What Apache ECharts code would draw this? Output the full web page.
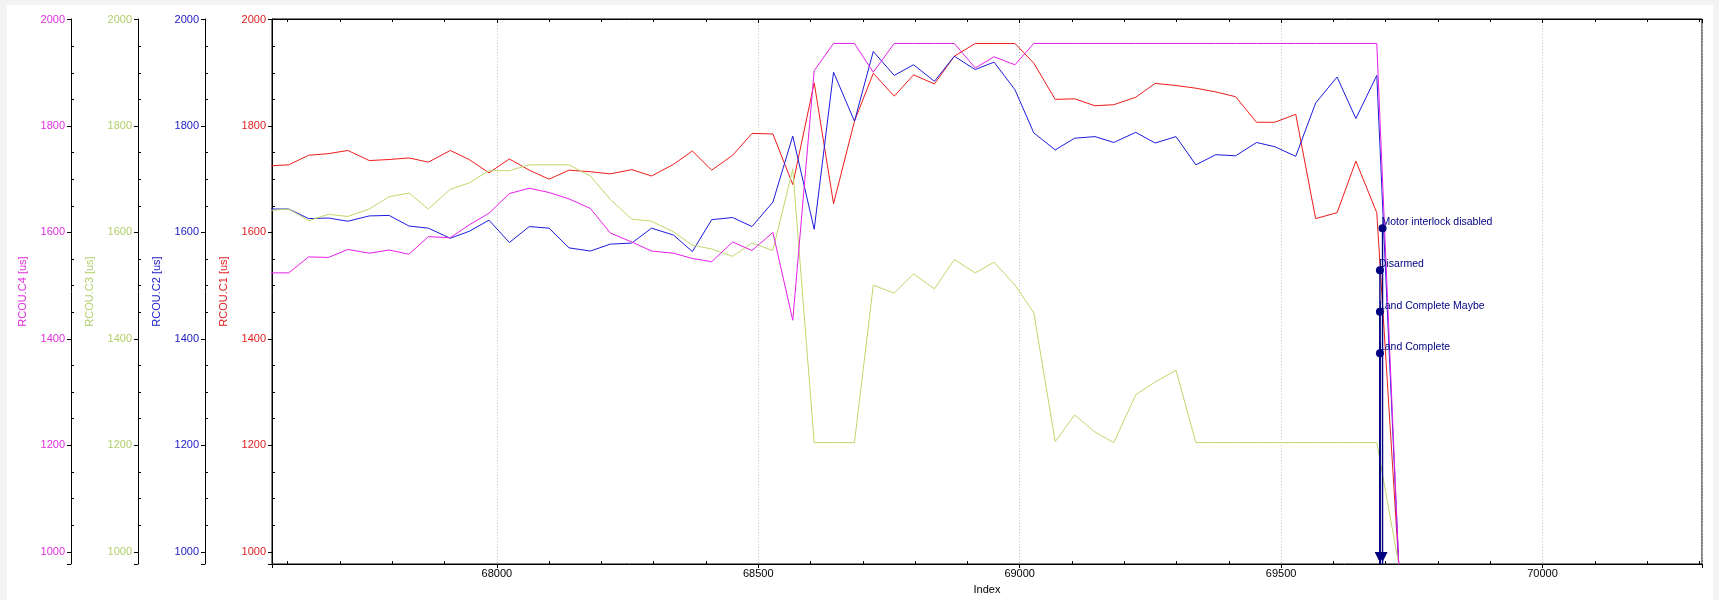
<!DOCTYPE html>
<html><head><meta charset="utf-8">
<script src="https://cdn.jsdelivr.net/npm/echarts@6/dist/echarts.min.js"></script>
<style>html,body{margin:0;padding:0;background:#f3f3f3}#c{width:1719px;height:600px}</style>
</head><body><div id="c"></div><script>
// ---- data ----
const indexValues = [67563,67602,67640,67678,67715,67756,67794,67832,67869,67911,
  67947,67985,68024,68062,68100,68138,68179,68217,68258,68296,
  68338,68374,68411,68451,68488,68528,68566,68607,68644,68684,
  68720,68760,68797,68837,68875,68915,68951,68991,69027,69068,
  69105,69144,69180,69222,69259,69299,69337,69375,69413,69453,
  69488,69528,69566,69607,69643,69683,69725];
const rcouC1 = [1725,1727,1745,1748,1754,1735,1737,1740,1732,1754,
  1737,1712,1738,1717,1700,1717,1714,1710,1718,1706,
  1728,1753,1717,1745,1786,1785,1690,1881,1654,1809,
  1899,1856,1896,1879,1931,1955,1955,1955,1918,1850,
  1851,1838,1840,1854,1880,1876,1871,1864,1855,1807,
  1807,1822,1626,1637,1734,1637,976];
const rcouC2 = [1644,1644,1626,1627,1621,1631,1632,1612,1608,1589,
  1602,1623,1581,1611,1608,1571,1565,1578,1580,1608,
  1595,1564,1624,1628,1611,1657,1781,1606,1901,1809,
  1940,1895,1915,1884,1931,1906,1920,1868,1787,1755,
  1777,1780,1769,1788,1768,1780,1727,1746,1744,1769,
  1761,1743,1843,1892,1814,1895,976];
const rcouC3 = [1641,1644,1622,1634,1630,1644,1667,1674,1644,1681,
  1693,1716,1716,1727,1727,1727,1706,1662,1625,1621,
  1601,1576,1569,1555,1580,1566,1719,1205,1205,1205,
  1501,1486,1522,1494,1549,1524,1544,1501,1449,1207,
  1257,1225,1205,1295,1319,1341,1205,1205,1205,1205,
  1205,1205,1205,1205,1205,1205,976];
const rcouC4 = [1524,1524,1554,1553,1568,1561,1567,1559,1592,1590,
  1614,1636,1673,1683,1675,1663,1645,1599,1582,1565,
  1561,1551,1545,1582,1566,1600,1435,1904,1955,1955,
  1901,1955,1955,1955,1955,1909,1930,1915,1955,1955,
  1955,1955,1955,1955,1955,1955,1955,1955,1955,1955,
  1955,1955,1955,1955,1955,1955,976];
const eventNames = ['Motor interlock disabled','Disarmed','Land Complete Maybe','Land Complete'];
const eventIndex = [69694, 69689, 69689, 69689];
const eventLevel = [1608, 1529, 1451, 1373];
const axisNames = ['RCOU.C1 [us]','RCOU.C2 [us]','RCOU.C3 [us]','RCOU.C4 [us]'];

// ---- styling ----
const FONT = 'Liberation Sans';
const X_MIN = 67570, X_MAX = 70305, Y_MIN = 977, Y_MAX = 2001;
const lineColors = ['#ee1c1c', '#1c1cdc', '#bcd86a', '#e81ee8'];
const textColors = ['#e02020', '#2020c8', '#b2cf6a', '#e030e0'];
const offsets = [0, 67, 134, 201];
const seriesData = [rcouC1, rcouC2, rcouC3, rcouC4];
const plain = v => String(Math.round(v));

const yAxes = axisNames.map((nm, i) => ({
  type: 'value', position: 'left', offset: offsets[i], gridIndex: 0,
  min: Y_MIN, max: Y_MAX,
  name: nm, nameLocation: 'middle', nameGap: 43,
  nameTextStyle: { color: textColors[i], fontSize: 11, fontFamily: FONT },
  axisLine: { show: true, onZero: false, lineStyle: { color: '#000', width: 1 } },
  axisTick: { show: true, length: 4, lineStyle: { color: '#000' } },
  minorTick: { show: true, splitNumber: 4, length: -3, lineStyle: { color: '#000' } },
  axisLabel: { color: textColors[i], fontSize: 11, fontFamily: FONT, margin: 6,
               showMinLabel: false, showMaxLabel: false, formatter: plain },
  splitLine: { show: false }, minorSplitLine: { show: false }
}));

const series = seriesData.map((arr, i) => ({
  type: 'line', name: axisNames[i], yAxisIndex: i, xAxisIndex: 0,
  data: indexValues.map((x, k) => [x, arr[k]]),
  showSymbol: false, symbol: 'none', clip: true, z: 2 + i * 0.01,
  lineStyle: { color: lineColors[i], width: 1 }, itemStyle: { color: lineColors[i] },
  emphasis: { disabled: true }, animation: false
}));

eventNames.forEach((nm, i) => {
  series.push({
    type: 'line', yAxisIndex: 0, xAxisIndex: 0, z: 5, silent: true, clip: false,
    showSymbol: true, showAllSymbol: true, animation: false,
    lineStyle: { color: '#000080', width: 1.4 }, itemStyle: { color: '#000080' },
    emphasis: { disabled: true },
    data: [
      { value: [eventIndex[i], eventLevel[i]], symbol: 'circle', symbolSize: 8,
        label: { show: true, formatter: nm, position: 'right', distance: -5, offset: [0, -6],
                 color: '#000080', fontSize: 10.5, fontFamily: FONT } },
      { value: [eventIndex[i], 990], symbol: 'triangle', symbolSize: [10, 10], symbolRotate: 180 },
      { value: [eventIndex[i], Y_MIN], symbol: 'none' }
    ]
  });
});

const chart = echarts.init(document.getElementById('c'), null, { renderer: 'canvas' });
chart.setOption({
  animation: false,
  backgroundColor: '#f3f3f3',
  graphic: { elements: [{ type: 'rect', z: -100, silent: true, shape: { x: 7, y: 5, width: 1706, height: 595 }, style: { fill: '#ffffff' } }] },
  grid: { left: 272, right: 17, top: 19, bottom: 34, show: true, borderColor: '#000', borderWidth: 1, backgroundColor: '#fff' },
  xAxis: [{
    type: 'value', position: 'bottom', min: X_MIN, max: X_MAX,
    name: 'Index', nameLocation: 'middle', nameGap: 20,
    nameTextStyle: { color: '#000', fontSize: 11, fontFamily: FONT },
    axisLine: { show: true, onZero: false, lineStyle: { color: '#000', width: 1 } },
    axisTick: { show: true, length: 4, lineStyle: { color: '#000' } },
    minorTick: { show: true, splitNumber: 5, length: -3, lineStyle: { color: '#000' } },
    axisLabel: { color: '#000', fontSize: 11, fontFamily: FONT, margin: 4,
                 showMinLabel: false, showMaxLabel: false, formatter: plain },
    splitLine: { show: true, lineStyle: { color: '#c4c4c4', type: [1, 2], width: 1 } },
    minorSplitLine: { show: false }
  }, {
    type: 'value', position: 'top', min: X_MIN, max: X_MAX,
    axisLine: { show: true, onZero: false, lineStyle: { color: '#000', width: 1 } },
    axisTick: { show: true, inside: true, length: 4, lineStyle: { color: '#000' } },
    minorTick: { show: true, splitNumber: 5, length: 3, lineStyle: { color: '#000' } },
    axisLabel: { show: false }, splitLine: { show: false }
  }],
  yAxis: yAxes,
  series: series
});
</script></body></html>
